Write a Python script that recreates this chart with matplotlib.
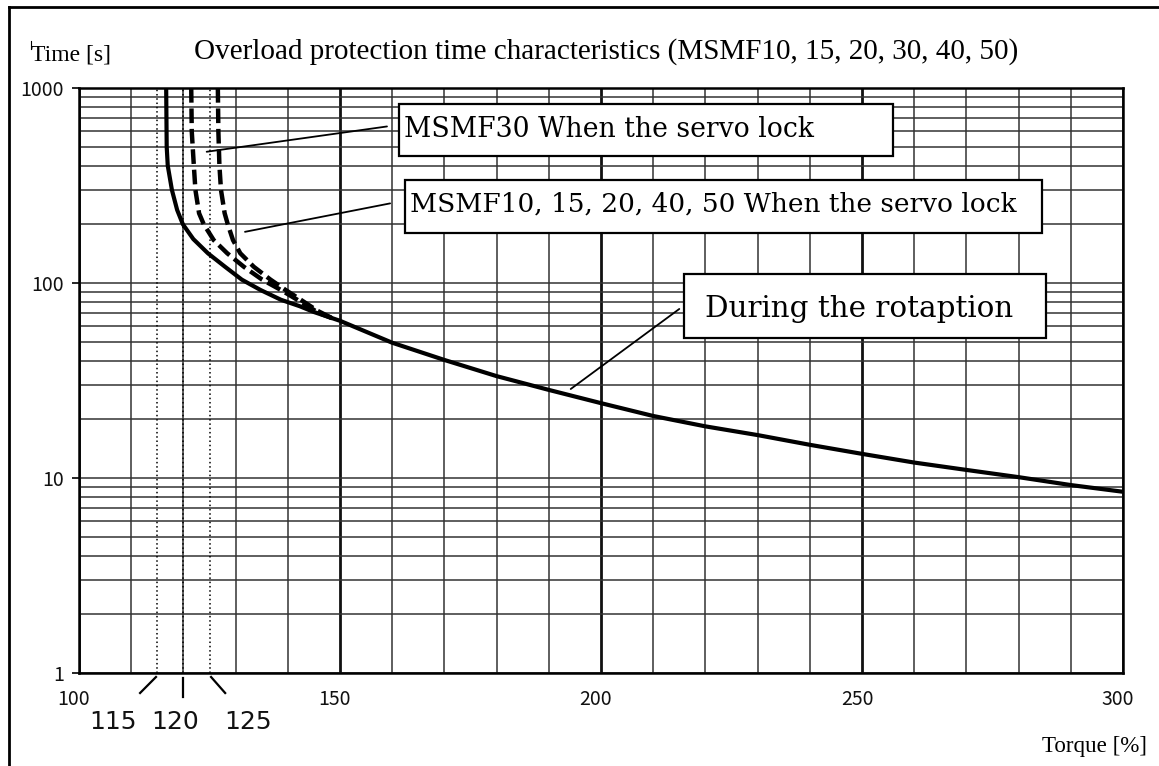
import matplotlib
matplotlib.use("Agg")
import matplotlib.pyplot as plt
from matplotlib.ticker import FixedLocator, FixedFormatter, LogLocator, NullFormatter
from matplotlib.patches import Rectangle
from matplotlib.lines import Line2D
from matplotlib.transforms import ScaledTranslation
import numpy as np

# ---------------- data ----------------
rot_torque = [116.7, 116.8, 117.0, 117.8, 118.8, 119.9, 121.9, 124.7, 128.0, 131.2,
              134.8, 138.7, 142.3, 145.0, 150, 160, 170, 180, 190, 200,
              210, 220, 230, 240, 250, 260, 270, 280, 290, 300]
rot_time = [1000, 500, 400, 300, 237, 200, 168, 142, 121, 104,
            92, 82, 76, 71, 64, 49.4, 40.3, 33.3, 28.3, 24.2,
            20.8, 18.4, 16.6, 14.8, 13.3, 12.0, 11.0, 10.1, 9.2, 8.5]

lock30_torque = [121.5, 121.6, 122.0, 122.3, 123.0, 123.9, 125.8, 128.4, 131.6, 135.1, 138.7, 142.5, 146.0, 148.5]
lock30_time = [1000, 600, 400, 300, 228, 200, 166, 142, 121, 104, 92, 80, 70, 66]

lock_other_torque = [126.6, 126.7, 126.9, 127.2, 127.9, 128.5, 129.5, 130.9, 133.5, 136.7, 139.6, 142.5, 145.7, 148.5]
lock_other_time = [1000, 600, 400, 300, 228, 200, 166, 142, 121, 104, 92, 82, 72, 66]

limit_torque = [115, 120, 125]
limit_labels = ["115", "120", "125"]

x_ticks = [100, 150, 200, 250, 300]
x_tick_labels = ["100", "150", "200", "250", "300"]
y_ticks = [1, 10, 100, 1000]
y_tick_labels = ["1", "10", "100", "1000"]

title_text = "Overload protection time characteristics (MSMF10, 15, 20, 30, 40, 50)"
ylabel_text = "Time [s]"
xlabel_text = "Torque [%]"
label_lock30 = "MSMF30 When the servo lock"
label_lock_other = "MSMF10, 15, 20, 40, 50 When the servo lock"
label_rot = "During the rotaption"

# ---------------- figure ----------------
W, H = 1159, 766
fig = plt.figure(figsize=(W / 100, H / 100), dpi=100)
fig.patch.set_facecolor("white")

def fx(px):
    return px / W

def fy(py):
    return 1 - py / H

ax = fig.add_axes([fx(79), fy(673), 1044 / W, 585 / H])
ax.set_xlim(100, 300)
ax.set_yscale("log")
ax.set_ylim(1, 1000)

SERIF = "Liberation Serif"
BOXF = "DejaVu Serif"
TICKF = "Noto Sans CJK JP"

# grid
ax.set_xticks(x_ticks)
ax.set_xticklabels(x_tick_labels)
ax.set_xticks(np.arange(100, 301, 10), minor=True)
ax.yaxis.set_major_locator(FixedLocator(y_ticks))
ax.yaxis.set_major_formatter(FixedFormatter(y_tick_labels))
ax.yaxis.set_minor_locator(LogLocator(base=10, subs=range(2, 10)))
ax.yaxis.set_minor_formatter(NullFormatter())

ax.grid(which="major", axis="x", color="#111111", lw=2.0)
ax.grid(which="minor", axis="x", color="#333333", lw=1.1)
ax.grid(which="both", axis="y", color="#333333", lw=1.1)
ax.set_axisbelow(True)

for s in ax.spines.values():
    s.set_linewidth(1.8)
    s.set_color("black")

ax.tick_params(axis="x", which="both", length=0, pad=11.5, labelsize=14)
ax.tick_params(axis="y", which="major", length=5, width=1.2, pad=6.0, labelsize=14)
ax.tick_params(axis="y", which="minor", length=0)
for lab in ax.get_xticklabels() + ax.get_yticklabels():
    lab.set_fontfamily(TICKF)
    lab.set_color("#111111")
for lab in ax.get_xticklabels():
    lab.set_transform(lab.get_transform() + ScaledTranslation(-5 / 100, 0, fig.dpi_scale_trans))

# dotted limit lines
for v in limit_torque:
    ax.axvline(v, color="black", lw=1.1, ls=(0, (1, 1.8)), zorder=3)

# curves
ax.plot(lock_other_torque, lock_other_time, color="black", lw=3.2,
        dashes=(3.3, 1.3), dash_capstyle="butt", zorder=4)
ax.plot(lock30_torque, lock30_time, color="black", lw=3.2,
        dashes=(3.3, 1.3), dash_capstyle="butt", zorder=4)
ax.plot(rot_torque, rot_time, color="black", lw=3.0, solid_capstyle="butt",
        solid_joinstyle="round", zorder=5)

# annotation boxes (axes fraction)
def afx(px):
    return (px - 79) / 1044

def afy(py):
    return (673 - py) / 585

def box(x0, x1, ytop, ybot):
    r = Rectangle((afx(x0), afy(ybot)), afx(x1) - afx(x0), afy(ytop) - afy(ybot),
                  transform=ax.transAxes, facecolor="white", edgecolor="black",
                  lw=1.6, zorder=6, clip_on=False)
    ax.add_patch(r)

box(399, 893, 104, 156)
box(405, 1042, 180, 233)
box(684, 1046, 274, 338)

ax.text(afx(404), afy(136.7), label_lock30, transform=ax.transAxes, ha="left",
        va="baseline", fontsize=19.2, family=BOXF, zorder=7)
ax.text(afx(410), afy(211.7), label_lock_other, transform=ax.transAxes, ha="left",
        va="baseline", fontsize=19.0, family=BOXF, zorder=7)
ax.text(afx(705), afy(317.3), label_rot, transform=ax.transAxes, ha="left",
        va="baseline", fontsize=21.2, family=BOXF, zorder=7)

# leader lines (data coordinates)
leader_kw = dict(arrowprops=dict(arrowstyle="-", lw=1.3, color="black", shrinkA=0, shrinkB=0))
ax.annotate("", xy=(124.46, 471), xytext=(159.0, 635), zorder=6, **leader_kw)
ax.annotate("", xy=(131.8, 183), xytext=(159.6, 256), zorder=6, **leader_kw)
ax.annotate("", xy=(194.2, 28.6), xytext=(215.0, 73.6), zorder=6, **leader_kw)

# marks and labels for 115 / 120 / 125 below the axis
xt = ax.get_xaxis_transform()
mark_dx = [(-0.25, -3.3), (0.0, 0.0), (0.3, 3.0)]
mark_y = [(-0.0068, -0.0342), (-0.0085, -0.041), (-0.0068, -0.0342)]
label_dx = [-8.5, -1.6, 7.4]
for v, lab, (d0, d1), (y0, y1), ldx in zip(limit_torque, limit_labels, mark_dx, mark_y, label_dx):
    ax.add_line(Line2D([v + d0, v + d1], [y0, y1], transform=xt, color="black",
                       lw=1.6, clip_on=False))
    ax.text(v + ldx, afy(722), lab, transform=xt, ha="center", va="center",
            fontsize=18, family="DejaVu Sans", color="#111111")

# figure texts
fig.text(fx(194), fy(59), title_text, ha="left", va="baseline", fontsize=21.0, family=SERIF)
fig.text(fx(31), fy(60), ylabel_text, ha="left", va="baseline", fontsize=17, family=SERIF)
fig.text(fx(1042), fy(751.7), xlabel_text, ha="left", va="baseline", fontsize=16.6, family=SERIF)
fig.add_artist(Line2D([fx(31), fx(31)], [fy(41), fy(49)], color="black", lw=0.8))

# figure frame (left and top)
fig.add_artist(Line2D([fx(8.5), fx(8.5)], [0, fy(6.5)], color="black", lw=2.0))
fig.add_artist(Line2D([fx(8.5), 1], [fy(6.5), fy(6.5)], color="black", lw=2.0))

fig.savefig("out.png", dpi=100)
